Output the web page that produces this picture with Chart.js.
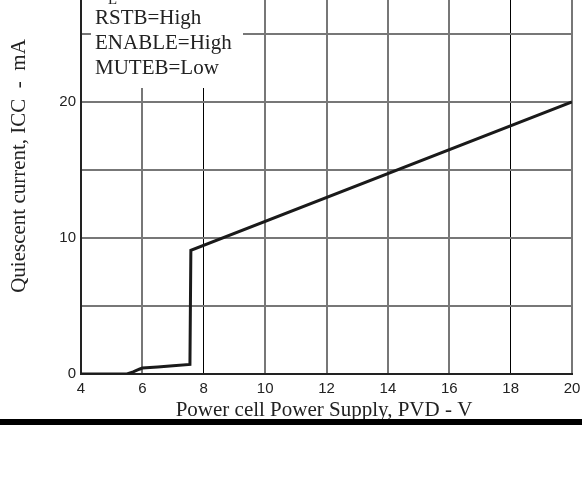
<!DOCTYPE html>
<html>
<head>
<meta charset="utf-8">
<script src="https://cdn.jsdelivr.net/npm/chart.js@4"></script>
<style>
html,body{margin:0;padding:0;background:#fff;}
canvas{display:block;}
</style>
</head>
<body>
<canvas id="c" width="582" height="499"></canvas>
<script>
// Data
const supplyVoltage = [4, 5.5, 5.7, 5.9, 6, 6.5, 7, 7.55, 7.58, 20];
const quiescentCurrent = [0, 0, 0.15, 0.35, 0.44, 0.52, 0.6, 0.7, 9.1, 20];
const xTickValues = [4, 6, 8, 10, 12, 14, 16, 18, 20];
const yTickLabels = [0, 10, 20];
const conditionLines = ["RSTB=High", "ENABLE=High", "MUTEB=Low"];
const xTitle = "Power cell Power Supply, PVD - V";
const yTitle = "Quiescent current, ICC  -  mA";

const points = supplyVoltage.map((v, i) => ({x: v, y: quiescentCurrent[i]}));

const overlay = {
  id: 'overlay',
  afterDatasetsDraw(chart) {
    const ctx = chart.ctx;
    ctx.save();
    // condition box (white, covering grid)
    ctx.fillStyle = '#fff';
    ctx.fillRect(91, 0, 152, 88);
    ctx.fillStyle = '#222';
    ctx.font = '21px "Liberation Serif"';
    ctx.textBaseline = 'alphabetic';
    ctx.textAlign = 'left';
    // partially cut line above
    ctx.fillText('R', 95, -1);
    ctx.font = '15px "Liberation Serif"';
    ctx.fillText('L', 108, 4);
    ctx.font = '21px "Liberation Serif"';
    conditionLines.forEach((t, i) => ctx.fillText(t, 95, 24 + i * 25));
    ctx.restore();
  },
  afterDraw(chart) {
    const ctx = chart.ctx;
    ctx.save();
    ctx.fillStyle = '#222';
    ctx.font = '21px "Liberation Serif"';
    ctx.textAlign = 'center';
    ctx.textBaseline = 'alphabetic';
    ctx.fillText(xTitle, 324, 416);
    ctx.translate(25, 166);
    ctx.rotate(-Math.PI / 2);
    ctx.fillText(yTitle, 0, 0);
    ctx.restore();
    ctx.save();
    ctx.fillStyle = '#000';
    ctx.fillRect(0, 419, 582, 6);
    ctx.restore();
  }
};

new Chart(document.getElementById('c'), {
  type: 'scatter',
  data: {
    datasets: [{
      data: points,
      showLine: true,
      borderColor: '#1a1a1a',
      borderWidth: 3,
      pointRadius: 0,
      tension: 0,
      fill: false
    }]
  },
  options: {
    responsive: false,
    animation: false,
    layout: {padding: {left: 0, right: 10, top: 0, bottom: 0}},
    plugins: {legend: {display: false}, tooltip: {enabled: false}},
    scales: {
      x: {
        type: 'linear',
        min: 4, max: 20,
        afterBuildTicks(scale) { scale.ticks = xTickValues.map(v => ({value: v})); },
        afterFit(scale) { scale.height = 125; scale.paddingLeft = 0; scale.paddingRight = 0; },
        ticks: {
          color: '#222',
          font: {family: '"Liberation Sans"', size: 15},
          padding: 6,
          maxRotation: 0,
          autoSkip: false
        },
        grid: {
          drawTicks: false,
          color: c => (c.tick && (c.tick.value === 8 || c.tick.value === 18)) ? '#000' : '#777',
          lineWidth: c => (c.tick && (c.tick.value === 8 || c.tick.value === 18)) ? 1 : 2
        },
        border: {color: '#222', width: 2}
      },
      y: {
        min: 0, max: 27.5,
        afterFit(scale) { scale.width = 81; scale.paddingTop = 0; scale.paddingBottom = 0; },
        ticks: {
          stepSize: 5,
          includeBounds: false,
          color: '#222',
          font: {family: '"Liberation Sans"', size: 15},
          padding: 5,
          callback: v => yTickLabels.includes(v) ? String(v) : ''
        },
        grid: {
          drawTicks: false,
          color: '#777',
          lineWidth: 2
        },
        border: {color: '#222', width: 2}
      }
    }
  },
  plugins: [overlay]
});
</script>
</body>
</html>
